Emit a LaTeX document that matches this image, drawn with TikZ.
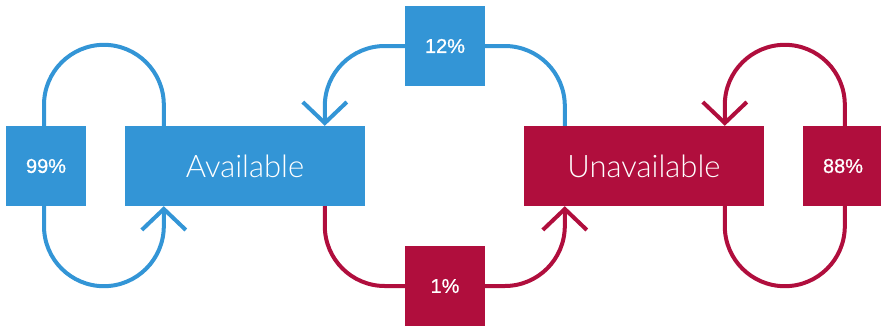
\documentclass[tikz,border=0pt]{standalone}
\usepackage{fontspec}
\setmainfont{Liberation Sans}
\newfontfamily\pctfont{Liberation Sans}[FakeBold=0.8]
\newfontfamily\lightfont{Lato}[UprightFont={* Light}]
\usetikzlibrary{arrows.meta}
\definecolor{cblue}{RGB}{51,149,214}
\definecolor{cred}{RGB}{176,14,61}
\tikzset{
  pbox/.style={minimum width=80pt,minimum height=80pt,inner sep=0pt,text=white,font=\pctfont\fontsize{20}{24}\selectfont},
  sbox/.style={minimum width=240pt,minimum height=80pt,inner sep=0pt,text=white,font=\lightfont\fontsize{31}{36}\selectfont},
  conn/.style={line width=4pt,rounded corners=60pt},
  tip/.style={-{Straight Barb[length=21pt,width=44pt]}}
}
\begin{document}
\begin{tikzpicture}[x=1pt,y=-1pt]
\useasboundingbox (0,0) rectangle (881,325);
\node[pbox,fill=cblue] (p99) at (46,166) {99\%};
\node[sbox,fill=cblue] (av) at (245,166) {Available};
\node[pbox,fill=cblue] (p12) at (445,46) {12\%};
\node[sbox,fill=cred] (un) at (644,166) {Unavailable};
\node[pbox,fill=cred] (p1) at (445,286) {1\%};
\node[pbox,fill=cred] (p88) at (843,166) {88\%};
% left loop
\draw[conn,cblue] ([xshift=39pt]av.north west) -- ++(0,-81) -| ([xshift=-2pt]p99.north);
\draw[conn,cblue,tip] ([xshift=-2pt]p99.south) -- ++(0,80) -| ([xshift=39pt]av.south west);
% top
\draw[conn,cblue,tip] (p12.west) -| ([xshift=200pt]av.north west);
\draw[conn,cblue] (p12.east) -| ([xshift=41pt]un.north west);
% bottom
\draw[conn,cred] ([xshift=200pt]av.south west) |- (p1.west);
\draw[conn,cred,tip] (p1.east) -| ([xshift=41pt]un.south west);
% right loop
\draw[conn,cred,tip] ([xshift=42pt]p88.north west) -- ++(0,-81) -| ([xshift=201pt]un.north west);
\draw[conn,cred] ([xshift=201pt]un.south west) -- ++(0,80) -| ([xshift=42pt]p88.south west);
\end{tikzpicture}
\end{document}
